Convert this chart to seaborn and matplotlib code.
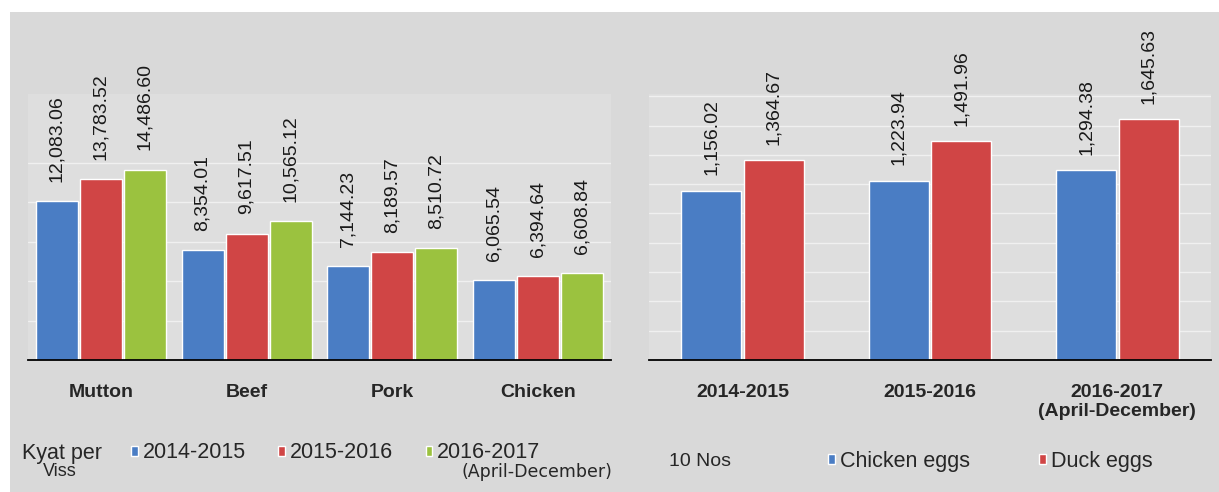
import pandas as pd
import matplotlib
matplotlib.use('Agg')
import matplotlib.pyplot as plt
from matplotlib import font_manager
from matplotlib.patches import Rectangle
from matplotlib.ticker import FixedLocator
import seaborn as sns

# meat prices, Kyat per Viss
meats = ['Mutton', 'Beef', 'Pork', 'Chicken']
meat_years = ['2014-2015', '2015-2016', '2016-2017']
p2014 = [12083.06, 8354.01, 7144.23, 6065.54]
p2015 = [13783.52, 9617.51, 8189.57, 6394.64]
p2016 = [14486.60, 10565.12, 8510.72, 6608.84]

# egg prices, per 10 Nos
egg_years = ['2014-2015', '2015-2016', '2016-2017\n(April-December)']
egg_types = ['Chicken eggs', 'Duck eggs']
chicken_eggs = [1156.02, 1223.94, 1294.38]
duck_eggs = [1364.67, 1491.96, 1645.63]

meat_grid = [3000, 6000, 9000, 12000, 15000]
egg_grid = [200, 400, 600, 800, 1000, 1200, 1400, 1600, 1800]

blue, red, green = '#4a7dc4', '#d04545', '#9bc23f'
bg = '#d9d9d9'
plot_bg = '#dedede'

sns.set_style('white')
names = {f.name for f in font_manager.fontManager.ttflist}
narrow = 'Liberation Sans Narrow' if 'Liberation Sans Narrow' in names else 'Liberation Sans'
plt.rcParams['font.family'] = ['Liberation Sans', 'DejaVu Sans']

meat_df = pd.DataFrame({
    'item': meats * 3,
    'year': [y for y in meat_years for _ in meats],
    'price': p2014 + p2015 + p2016,
})
egg_df = pd.DataFrame({
    'year': egg_years * 2,
    'type': [t for t in egg_types for _ in egg_years],
    'price': chicken_eggs + duck_eggs,
})

fig = plt.figure(figsize=(12.19, 4.92), dpi=100, facecolor='white')
fig.patches.append(Rectangle((10 / 1219, 0), 1, 1 - 12 / 492, transform=fig.transFigure,
                             facecolor=bg, edgecolor='none', zorder=-10))

ax1 = fig.add_axes([28 / 1219, 132 / 492, 583 / 1219, 340 / 492])
ax2 = fig.add_axes([649 / 1219, 132 / 492, 562 / 1219, 340 / 492])

sns.barplot(data=meat_df, x='item', y='price', hue='year', ax=ax1,
            palette=[blue, red, green], width=0.906, gap=0.05, saturation=1)
sns.barplot(data=egg_df, x='year', y='price', hue='type', ax=ax2,
            palette=[blue, red], width=0.667, gap=0.04, saturation=1)

ax1.set_ylim(0, 25900)
ax2.set_ylim(0, 2320)
ax1.yaxis.set_major_locator(FixedLocator(meat_grid))
ax2.yaxis.set_major_locator(FixedLocator(egg_grid))

for ax, n, pad in [(ax1, len(meats), 14), (ax2, len(egg_years), 11)]:
    ax.set_facecolor('none')
    ax.add_patch(Rectangle((0, 0), 1, (360 - 94) / 340, transform=ax.transAxes,
                           facecolor=plot_bg, edgecolor='none', zorder=-5))
    ax.set_xlim(-0.5, n - 0.5)
    ax.set_xlabel('')
    ax.set_ylabel('')
    ax.set_yticklabels([])
    ax.tick_params(axis='y', length=0)
    ax.grid(axis='y', color='white', linewidth=1, alpha=0.55)
    ax.set_axisbelow(True)
    for s in ['top', 'right', 'left']:
        ax.spines[s].set_visible(False)
    ax.spines['bottom'].set_color('black')
    ax.spines['bottom'].set_linewidth(1.3)
    ax.tick_params(axis='x', which='major', length=0, pad=17)
    ax.xaxis.set_minor_locator(FixedLocator([i - 0.5 for i in range(n + 1)]))
    ax.tick_params(axis='x', which='minor', length=6, width=1.2, color='black', direction='out')
    for lab in ax.get_xticklabels():
        lab.set_fontfamily([narrow, 'Liberation Sans'])
        lab.set_fontweight('bold')
        lab.set_fontsize(14)
        lab.set_linespacing(1.2)
    for c in ax.containers:
        ax.bar_label(c, labels=[f'{v:,.2f}' for v in c.datavalues], rotation=90,
                     padding=pad, fontsize=14, color='#1a1a1a')

# legends at the bottom
h1, l1 = ax1.get_legend_handles_labels()
ax1.get_legend().remove()
fig.legend(h1, l1, loc='center left', bbox_to_anchor=(131 / 1219, 1 - 453 / 492),
           ncol=3, frameon=False, fontsize=15.5, handlelength=0.32, handleheight=0.32,
           handletextpad=0.23, columnspacing=1.5, borderpad=0, borderaxespad=0)
fig.text(22 / 1219, 1 - 453 / 492, 'Kyat per', fontsize=15.5, va='center', ha='left')
fig.text(60 / 1219, 1 - 472 / 492, 'Viss', fontsize=13, va='center', ha='center')
fig.text(612 / 1219, 1 - 472 / 492, '(April-December)', fontsize=12.5, va='center',
         ha='right', family='DejaVu Sans')

h2, l2 = ax2.get_legend_handles_labels()
ax2.get_legend().remove()
fig.legend(h2, l2, loc='center left', bbox_to_anchor=(828 / 1219, 1 - 461 / 492),
           ncol=2, frameon=False, fontsize=15.5, handlelength=0.32, handleheight=0.32,
           handletextpad=0.23, columnspacing=3.2, borderpad=0, borderaxespad=0)
fig.text(669 / 1219, 1 - 462 / 492, '10 Nos', fontsize=14, va='center', ha='left')

fig.savefig('out.png', dpi=100, facecolor=fig.get_facecolor())
